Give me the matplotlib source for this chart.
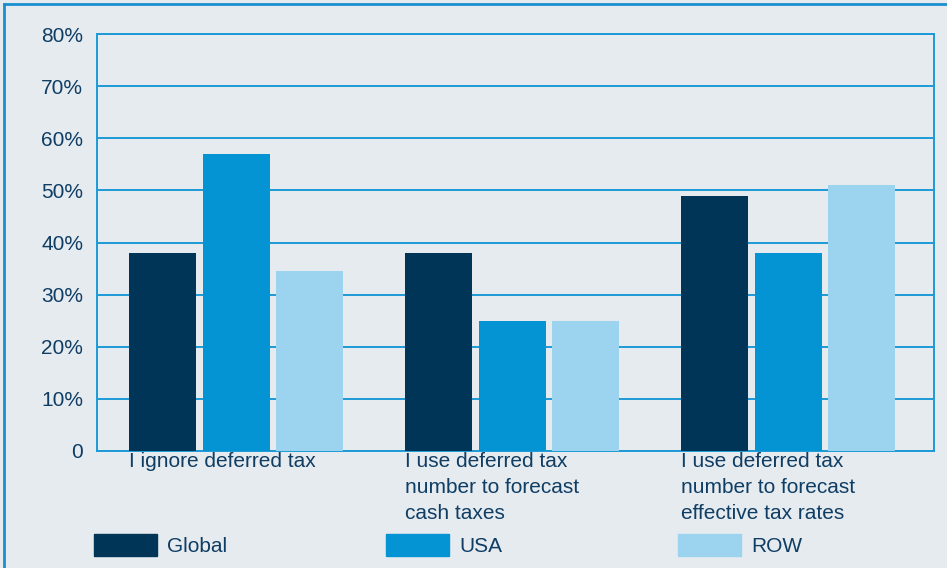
import numpy as np
import matplotlib.pyplot as plt
from matplotlib.patches import Rectangle
from matplotlib.lines import Line2D

categories = ["I ignore deferred tax",
              "I use deferred tax\nnumber to forecast\ncash taxes",
              "I use deferred tax\nnumber to forecast\neffective tax rates"]
series = ["Global", "USA", "ROW"]
global_vals = [38, 38, 49]
usa_vals = [57, 25, 38]
row_vals = [34.5, 25, 51]
yticks = [0, 10, 20, 30, 40, 50, 60, 70, 80]
ytick_labels = ["0", "10%", "20%", "30%", "40%", "50%", "60%", "70%", "80%"]

colors = ["#003558", "#0493d3", "#9cd3ee"]
bg = "#e6ebf0"
line_blue = "#1d9ad6"
text_col = "#0f3d63"
fs = 15

plt.rcParams['font.family'] = ['Liberation Sans', 'DejaVu Sans']

fig = plt.figure(figsize=(9.47, 5.68), dpi=100, facecolor=bg)
ax = fig.add_axes([0.1024, 0.206, 0.884, 0.734])
ax.set_facecolor(bg)

x = np.arange(len(categories))
width = 0.243
step = 0.266
for i, vals in enumerate([global_vals, usa_vals, row_vals]):
    ax.bar(x + (i - 1) * step, vals, width=width, color=colors[i], zorder=3)

ax.set_xlim(-0.504, 2.529)
ax.set_ylim(0, 80)
ax.set_yticks(yticks)
ax.set_yticklabels(ytick_labels)
ax.yaxis.grid(True, color=line_blue, linewidth=1.4, zorder=1)
ax.tick_params(axis='y', length=0, pad=10, labelsize=fs, labelcolor=text_col)

# category labels start at the left edge of each group
ax.set_xticks(x - step - width / 2)
ax.set_xticklabels(categories, ha='left', va='top', linespacing=1.45)
ax.tick_params(axis='x', length=0, pad=1, labelsize=fs, labelcolor=text_col)

for s in ax.spines.values():
    s.set_color(line_blue)
    s.set_linewidth(1.4)

# legend row along the bottom
leg_x = [94, 386, 678]
for lx, name, c in zip(leg_x, series, colors):
    fig.patches.append(Rectangle((lx / 947, 1 - 556 / 568), 63 / 947, 22 / 568,
                                 transform=fig.transFigure, color=c))
    fig.text((lx + 73) / 947, 1 - 546 / 568, name, fontsize=fs,
             color=text_col, va='center', ha='left')

# outer frame
fig.add_artist(Line2D([4 / 947, 4 / 947], [0, 1 - 3.5 / 568], transform=fig.transFigure,
                      color="#1a8fd0", linewidth=2))
fig.add_artist(Line2D([4 / 947, 1], [1 - 3.5 / 568, 1 - 3.5 / 568], transform=fig.transFigure,
                      color="#1a8fd0", linewidth=2))

fig.savefig("out.png", dpi=100, facecolor=bg)
